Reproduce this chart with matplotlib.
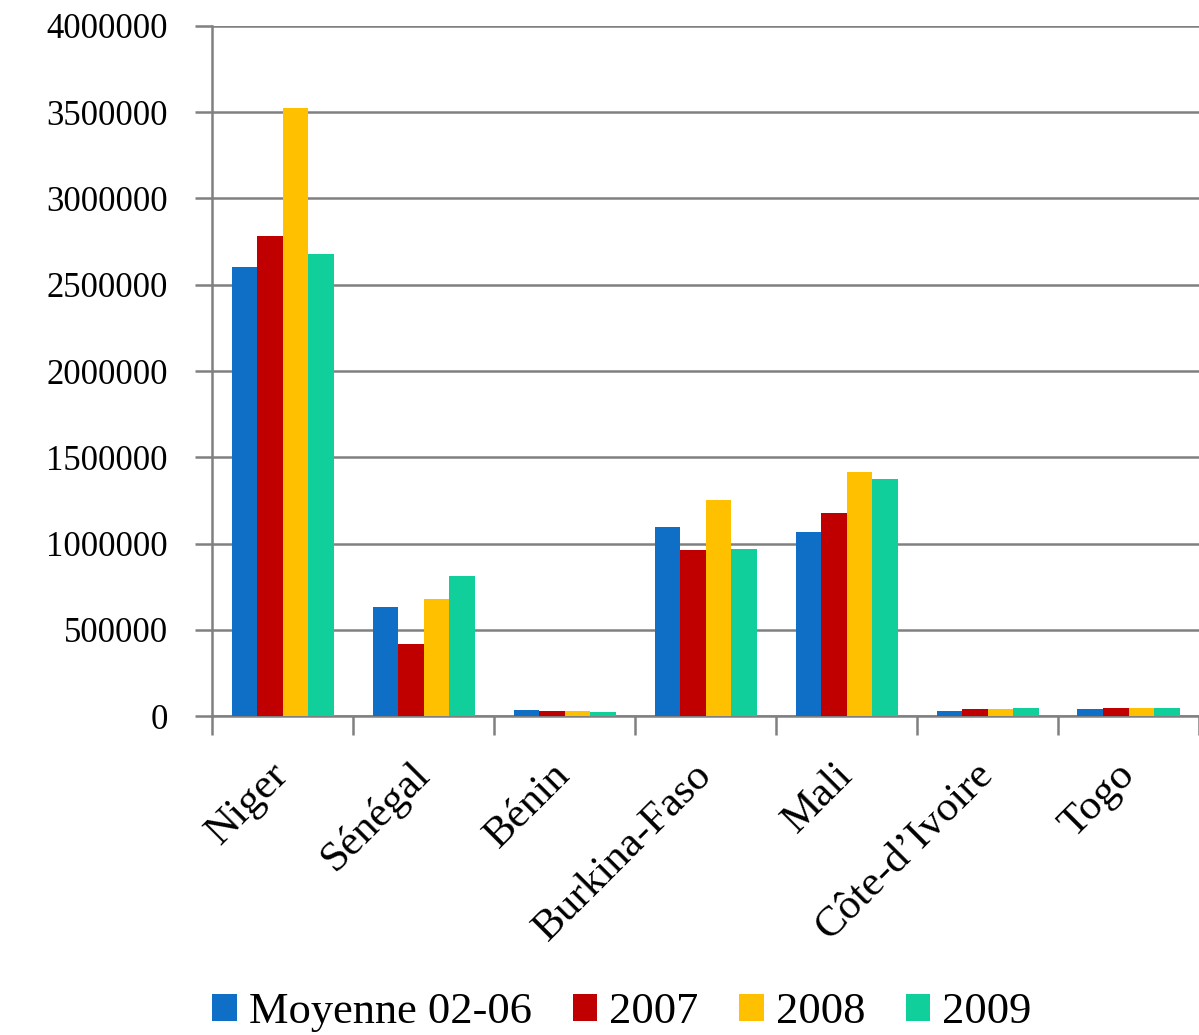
import matplotlib.pyplot as plt
import numpy as np

countries = ["Niger", "Sénégal", "Bénin", "Burkina-Faso", "Mali", "Côte-d’Ivoire", "Togo"]
series_names = ["Moyenne 02-06", "2007", "2008", "2009"]
moyenne = [2600000, 632000, 35000, 1097000, 1065000, 33000, 43000]
y2007 = [2780000, 417000, 31000, 964000, 1175000, 39000, 45000]
y2008 = [3525000, 678000, 33000, 1252000, 1414000, 44000, 45000]
y2009 = [2678000, 812000, 25000, 970000, 1374000, 45000, 49000]
colors = ["#0f6fc6", "#c00000", "#ffc000", "#10cf9b"]
yticks = [0, 500000, 1000000, 1500000, 2000000, 2500000, 3000000, 3500000, 4000000]

plt.rcParams['font.family'] = ['Liberation Serif', 'DejaVu Serif']

fig = plt.figure(figsize=(11.99, 10.35), dpi=100)
ax = fig.add_axes([0.177, 0.308, 0.823, 0.667])

x = np.arange(len(countries))
w = 0.181
for i, vals in enumerate([moyenne, y2007, y2008, y2009]):
    ax.bar(x + (i - 1.5) * w, vals, w, color=colors[i], label=series_names[i], zorder=3)

ax.set_xlim(-0.5, len(countries) - 0.5)
ax.set_ylim(0, 4000000)
ax.set_yticks(yticks)
ax.set_yticklabels([str(v) for v in yticks], fontsize=25)
ax.yaxis.grid(True, color="#808080", linewidth=1.8, zorder=0)
ax.set_axisbelow(True)

# category boundaries get the tick marks, names sit at the centres
ax.set_xticks(np.arange(len(countries) + 1) - 0.5)
ax.set_xticklabels([])
ax.set_xticks(x, minor=True)
ax.set_xticklabels(countries, minor=True, rotation=45, ha='right', va='center',
                   rotation_mode='anchor', fontsize=31)
ax.tick_params(axis='x', which='minor', length=0, pad=38)
ax.tick_params(axis='x', which='major', length=14, width=1.8, color="#808080")
ax.tick_params(axis='y', length=12, width=1.8, color="#808080", pad=20)

for s in ['top', 'right']:
    ax.spines[s].set_visible(False)
for s in ['left', 'bottom']:
    ax.spines[s].set_color("#808080")
    ax.spines[s].set_linewidth(1.8)

fig.legend(loc='lower left', bbox_to_anchor=(0.177, 0.003), ncol=4, frameon=False,
           fontsize=32, handlelength=0.55, handleheight=0.55, handletextpad=0.27,
           columnspacing=0.92, borderpad=0, borderaxespad=0)

fig.savefig("out.png", dpi=100)
